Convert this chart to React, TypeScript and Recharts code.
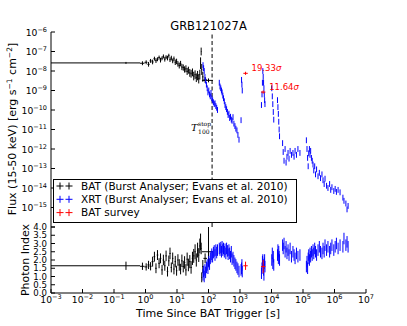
import React from 'react';
import {
  ComposedChart, Scatter, XAxis, YAxis, ErrorBar, ReferenceLine, LabelList, Legend,
} from 'recharts';

const FONT = '"DejaVu Sans", sans-serif';
const MINUS = '\u2212';

// BAT Burst Analyser bins (time in s since trigger, flux in erg/s/cm2)
const batTime = [
  0.24, 0.8, 1.05, 1.25, 1.45, 1.68, 1.92, 2.15, 2.4, 2.7,
  3.0, 3.35, 3.7, 4.1, 4.5, 5.0, 5.5, 6.0, 6.6, 7.3,
  8.0, 8.8, 9.7, 10.7, 11.8, 13.0, 14.3, 15.8, 17.4, 19.2,
  21, 23, 25.5, 28, 31, 34, 37.5, 41, 45, 49,
  53, 56, 58.5, 61, 66, 78, 100,
];
const batStart = [
  0.001, 0.67, 0.93, 1.15, 1.35, 1.56, 1.8, 2.03, 2.27, 2.55,
  2.85, 3.17, 3.52, 3.9, 4.3, 4.75, 5.25, 5.75, 6.3, 6.95,
  7.65, 8.4, 9.25, 10.2, 11.2, 12.4, 13.6, 15.0, 16.6, 18.3,
  20.1, 22, 24.2, 26.7, 29.5, 32.5, 35.8, 39.2, 43, 47,
  51, 54.5, 57.5, 59.8, 63, 69, 62,
];
const batStop = [
  0.67, 0.93, 1.15, 1.35, 1.56, 1.8, 2.03, 2.27, 2.55, 2.85,
  3.17, 3.52, 3.9, 4.3, 4.75, 5.25, 5.75, 6.3, 6.95, 7.65,
  8.4, 9.25, 10.2, 11.2, 12.4, 13.6, 15.0, 16.6, 18.3, 20.1,
  22, 24.2, 26.7, 29.5, 32.5, 35.8, 39.2, 43, 47, 51,
  54.5, 57.5, 59.8, 63, 69, 90, 138,
];
const batFlux = [
  2.6e-8, 2.5e-8, 2.8e-8, 2.2e-8, 3.3e-8, 2.9e-8, 4.3e-8, 3.4e-8, 4.0e-8, 4.9e-8,
  3.6e-8, 4.5e-8, 5.6e-8, 4.0e-8, 5.1e-8, 4.6e-8, 6.1e-8, 3.8e-8, 4.6e-8, 3.3e-8,
  4.2e-8, 2.8e-8, 3.1e-8, 2.3e-8, 1.9e-8, 2.4e-8, 1.6e-8, 1.5e-8, 1.2e-8, 1.3e-8,
  9.5e-9, 1.1e-8, 8.0e-9, 7.2e-9, 8.5e-9, 5.5e-9, 6.5e-9, 4.5e-9, 5.8e-9, 4.0e-9,
  6.5e-9, 2.5e-8, 1.0e-7, 1.2e-8, 5.0e-9, 3.5e-9, 3.3e-9,
];
// flux uncertainty, in decades
const batFluxErr = [
  0.05, 0.1, 0.1, 0.12, 0.1, 0.12, 0.1, 0.12, 0.1, 0.1,
  0.12, 0.1, 0.1, 0.12, 0.1, 0.12, 0.1, 0.12, 0.12, 0.12,
  0.12, 0.14, 0.14, 0.14, 0.15, 0.14, 0.16, 0.16, 0.16, 0.18,
  0.18, 0.18, 0.2, 0.2, 0.2, 0.22, 0.22, 0.22, 0.24, 0.24,
  0.25, 0.3, 0.2, 0.28, 0.25, 0.15, 0.1,
];
const batIndex = [
  1.65, 1.62, 1.58, 1.7, 1.62, 1.9, 2.2, 1.5, 2.3, 1.8,
  2.1, 1.4, 2.0, 1.65, 2.25, 1.3, 1.95, 2.4, 1.55, 2.1,
  1.45, 1.9, 1.35, 2.0, 1.7, 1.45, 1.95, 1.6, 1.85, 1.4,
  2.05, 1.7, 1.9, 1.55, 2.1, 2.25, 2.5, 2.0, 2.6, 2.3,
  2.85, 3.1, 2.7, 0.95, 1.6, 2.1, 2.5,
];
// [below, above]; the last one runs off the top of the panel
const batIndexErr: [number, number][] = [
  [0.25, 0.25], [0.22, 0.22], [0.22, 0.22], [0.25, 0.25], [0.25, 0.25], [0.3, 0.3], [0.3, 0.3], [0.3, 0.3], [0.3, 0.3], [0.3, 0.3],
  [0.3, 0.3], [0.3, 0.3], [0.32, 0.32], [0.3, 0.3], [0.32, 0.32], [0.3, 0.3], [0.32, 0.32], [0.35, 0.35], [0.3, 0.3], [0.35, 0.35],
  [0.32, 0.32], [0.35, 0.35], [0.3, 0.3], [0.35, 0.35], [0.35, 0.35], [0.32, 0.32], [0.38, 0.38], [0.35, 0.35], [0.38, 0.38], [0.35, 0.35],
  [0.4, 0.4], [0.38, 0.38], [0.4, 0.4], [0.38, 0.38], [0.4, 0.4], [0.42, 0.42], [0.45, 0.45], [0.4, 0.4], [0.45, 0.45], [0.42, 0.42],
  [0.45, 0.45], [0.5, 0.5], [0.35, 0.35], [0.3, 0.3], [0.4, 0.4], [0.3, 0.3], [0.9, 1.5],
];

// XRT Burst Analyser points (time bins too short to show at this scale)
const xrtTime = [
  67, 70, 73, 77, 81, 86, 91, 96, 102, 108, 114, 120, 127, 135, 143, 152, 161, 171, 182, 193,
  220, 232, 245, 258, 270, 285, 300, 318, 335, 355, 375, 398, 420, 445, 470, 500, 530, 560, 600, 640, 690, 740, 800, 860, 930,
  1080, 1120, 1150, 1180,
  4800, 5000, 5150, 5300, 5450, 5600, 5750, 5900, 6050, 6200,
  10200, 10600, 11000, 11400, 11800,
  15500, 16000, 16500, 17000, 17500, 18000,
  22500, 23500, 25000, 27000, 29000, 31000, 33500, 36000, 39000, 43000, 48000, 52000, 56000, 62000, 69000, 80000,
  128000, 134000, 140000, 146000, 152000, 160000, 167000, 175000, 185000, 196000, 208000, 220000, 235000, 250000, 270000, 300000, 330000, 360000,
  400000, 432000, 470000, 500000, 560000, 620000, 700000, 760000, 830000, 950000, 1.05e6, 1.15e6, 1.3e6, 1.5e6, 1.85e6, 2.0e6, 2.3e6, 2.5e6, 2.7e6,
];
const xrtFlux = [
  2.0e-8, 1.4e-8, 1.0e-8, 5.0e-9, 3.2e-9, 2.0e-9, 1.3e-9, 8.0e-10, 1.0e-9, 6.3e-10, 5.0e-10, 7.5e-10, 4.0e-10, 3.2e-10, 2.5e-10, 2.0e-10, 2.2e-10, 1.6e-10, 1.3e-10, 1.0e-10,
  2.5e-9, 1.6e-9, 1.3e-9, 1.0e-9, 8.0e-10, 5.5e-10, 4.0e-10, 2.8e-10, 1.8e-10, 1.4e-10, 1.1e-10, 8.0e-11, 5.5e-11, 6.5e-11, 3.9e-11, 4.5e-11, 3.2e-11, 2.8e-11, 4.3e-11, 2.0e-11, 1.5e-11, 1.1e-11, 9.0e-12, 5.3e-12, 3.0e-12,
  3.0e-11, 3.5e-9, 2.0e-9, 1.0e-9,
  1.8e-10, 6.3e-10, 2.5e-9, 1.0e-8, 5.0e-9, 2.5e-9, 1.3e-9, 6.3e-10, 3.2e-10, 2.0e-10,
  1.3e-9, 5.0e-10, 2.0e-10, 7.9e-11, 3.2e-11,
  3.2e-10, 1.4e-10, 6.3e-11, 2.5e-11, 1.0e-11, 4.5e-12,
  2.0e-12, 7.0e-13, 2.5e-13, 1.0e-12, 2.0e-13, 4.0e-13, 6.3e-13, 3.2e-13, 8.0e-13, 5.0e-13, 6.3e-13, 4.0e-13, 8.0e-13, 5.0e-13, 1.0e-12, 6.3e-13,
  2.8e-12, 1.0e-12, 3.5e-13, 1.3e-13, 6.0e-13, 1.0e-12, 5.0e-13, 8.0e-13, 3.5e-13, 2.5e-13, 1.6e-13, 8.0e-14, 1.3e-13, 5.0e-14, 9.0e-14, 4.0e-14, 6.0e-14, 3.2e-14,
  5.0e-14, 2.5e-14, 1.6e-14, 3.0e-14, 1.3e-14, 1.0e-14, 1.6e-14, 8.0e-15, 1.1e-14, 7.0e-15, 9.0e-15, 6.3e-15, 8.0e-15, 6.0e-15, 3.2e-15, 2.2e-15, 1.6e-15, 8.0e-16, 1.2e-15,
];
const xrtIndex = [
  1.1, 1.3, 1.0, 1.4, 1.25, 1.55, 1.7, 1.5, 1.9, 1.75, 2.1, 2.2, 2.35, 2.2, 2.45, 2.55, 2.3, 2.6, 2.45, 2.6,
  2.7, 2.6, 2.75, 2.5, 2.8, 2.6, 2.7, 2.5, 2.65, 2.4, 2.7, 2.55, 2.35, 2.6, 2.4, 2.2, 2.5, 2.05, 2.15, 1.95, 1.8, 1.7, 1.55, 1.45, 1.3,
  1.4, 1.5, 1.7, 1.3,
  1.2, 1.5, 1.9, 2.0, 1.7, 1.4, 1.1, 1.8, 2.0, 1.6,
  2.0, 2.4, 1.8, 2.2, 1.7,
  2.3, 2.6, 2.1, 2.5, 2.2, 2.0,
  2.9, 2.7, 3.0, 2.5, 2.8, 2.4, 2.6, 2.3, 2.7, 2.2, 2.5, 2.3, 2.1, 2.4, 2.2, 2.3,
  1.6, 1.9, 1.5, 2.1, 2.3, 2.0, 2.4, 2.2, 2.5, 2.3, 2.6, 2.4, 2.7, 2.5, 2.3, 2.6, 2.8, 2.5,
  2.4, 2.7, 2.5, 2.9, 2.6, 2.8, 2.5, 2.7, 2.9, 2.6, 2.8, 3.0, 2.7, 2.9, 2.8, 3.3, 2.9, 3.1, 2.8,
];
const XRT_F_ERR = 0.15; // decades
const XRT_IX_ERR = 0.35;

// BAT survey detections
const surveyTime = [1500, 5450];
const surveyFlux = [7.6e-9, 8.3e-10];
const surveyIndex = [1.65, 1.6];
const surveyIndexErr: [number, number][] = [[0.25, 0.25], [0.4, 0.4]];
const surveySigma = ['19.33', '11.64'];

const T100 = 130;

const seriesNames = [
  'BAT (Burst Analyser; Evans et al. 2010)',
  'XRT (Burst Analyser; Evans et al. 2010)',
  'BAT survey',
];

const timeTicks = [1e-3, 1e-2, 1e-1, 1, 10, 100, 1e3, 1e4, 1e5, 1e6, 1e7];
const fluxTicks = [1e-16, 1e-15, 1e-14, 1e-13, 1e-12, 1e-11, 1e-10, 1e-9, 1e-8, 1e-7, 1e-6];
const indexTicks = [0, 0.5, 1, 1.5, 2, 2.5, 3, 3.5, 4];

const dex = (v: number, d: number): [number, number] => [v - v / 10 ** d, v * 10 ** d - v];

const batRows = batTime.map((t, i) => ({
  t, f: batFlux[i], ix: batIndex[i],
  tErr: [t - batStart[i], batStop[i] - t],
  fErr: dex(batFlux[i], batFluxErr[i]),
  ixErr: batIndexErr[i],
}));
const xrtRows = xrtTime.map((t, i) => ({
  t, f: xrtFlux[i], ix: xrtIndex[i],
  fErr: dex(xrtFlux[i], XRT_F_ERR),
  ixErr: XRT_IX_ERR,
}));
const surveyRows = surveyTime.map((t, i) => ({
  t, f: surveyFlux[i], ix: surveyIndex[i], sig: surveySigma[i],
  tErr: dex(t, 0.07),
  fErr: dex(surveyFlux[i], 0.08),
  ixErr: surveyIndexErr[i],
}));

const BLACK = '#000000';
const BLUE = '#0000ff';
const RED = '#ff0000';
const seriesColors = [BLACK, BLUE, RED];

const Empty = () => <g />;

const pow = (v: number) => {
  const e = Math.round(Math.log10(v));
  return String(e).replace('-', MINUS);
};

function TimeTick({ x, y, payload }: any) {
  return (
    <text x={x} y={y + 10} textAnchor="middle" fontSize={9.2} fontFamily={FONT} fill="#000">
      10<tspan dy={-4} fontSize={6.5}>{pow(payload.value)}</tspan>
    </text>
  );
}

function FluxTick({ x, y, payload }: any) {
  if (payload.value < 1e-15) return null;
  return (
    <text x={x} y={y + 3.5} textAnchor="end" fontSize={9.2} fontFamily={FONT} fill="#000">
      10<tspan dy={-4} fontSize={6.5}>{pow(payload.value)}</tspan>
    </text>
  );
}

function IndexTick({ x, y, payload }: any) {
  return (
    <text x={x} y={y + 3} textAnchor="end" fontSize={8.6} fontFamily={FONT} fill="#000">
      {payload.value.toFixed(1)}
    </text>
  );
}

// y title of the flux panel, plus the panel title
const FluxTitle = () => (
  <g fill="#000" fontFamily={FONT}>
    <text x={208.5} y={30} textAnchor="middle" fontSize={11.5}>GRB121027A</text>
    <text x={16} y={129} transform="rotate(-90 16 129)" textAnchor="middle" fontSize={11}>
      Flux (15-50 keV) [erg s<tspan dy={-4} fontSize={7.5}>{MINUS}1</tspan>
      <tspan dy={4}> cm</tspan><tspan dy={-4} fontSize={7.5}>{MINUS}2</tspan><tspan dy={4}>]</tspan>
    </text>
  </g>
);

const IndexTitle = () => (
  <text x={29} y={38} transform="rotate(-90 29 38)" textAnchor="middle" fontSize={11} fontFamily={FONT} fill="#000">
    Photon Index
  </text>
);

const TimeTitle = () => (
  <text x={208} y={95} textAnchor="middle" fontSize={11} fontFamily={FONT} fill="#000">
    Time Since BAT Trigger [s]
  </text>
);

function T100Label({ viewBox }: any) {
  const x = viewBox.x;
  return (
    <g fill="#000">
      <text x={x - 21} y={131} fontFamily='"DejaVu Serif", serif' fontStyle="italic" fontSize={10}>T</text>
      <text x={x - 14} y={125.5} fontFamily='"DejaVu Serif", serif' fontSize={6}>stop</text>
      <text x={x - 14} y={133.5} fontFamily='"DejaVu Serif", serif' fontSize={6}>100</text>
    </g>
  );
}

function SigmaLabel({ x, y, width, height, value }: any) {
  const cx = x + (width || 0) / 2;
  const cy = y + (height || 0) / 2;
  return (
    <text x={cx + 6} y={cy - 2.5} fontSize={8.5} fontFamily={FONT} fill={RED}>
      {value}<tspan fontStyle="italic">σ</tspan>
    </text>
  );
}

function LegendBox() {
  return (
    <svg width={244} height={44} style={{ display: 'block' }}>
      <rect x={0.5} y={0.5} width={243} height={43} fill="#fff" stroke="#000" strokeWidth={1} />
      {seriesNames.map((name, i) => {
        const yy = 7 + i * 13.3;
        return (
          <g key={name}>
            {[7, 16].map((dx) => (
              <g key={dx} stroke={seriesColors[i]}>
                <line x1={dx - 3.5} x2={dx + 3.5} y1={yy} y2={yy} />
                <line x1={dx} x2={dx} y1={yy - 3.5} y2={yy + 3.5} />
              </g>
            ))}
            <text x={28} y={yy + 3.8} fontSize={10.5} fontFamily={FONT} fill="#000">{name}</text>
          </g>
        );
      })}
    </svg>
  );
}

const axisCommon = {
  axisLine: { stroke: '#000' },
  tickLine: { stroke: '#000' },
  tickSize: -4,
  interval: 0 as const,
  allowDataOverflow: true,
};

// error bars only, no end caps (a zero width falls back to the default)
const CAP = 0.001;

function series(yKey: 'fErr' | 'ixErr', withLabels: boolean) {
  const rows = [batRows, xrtRows, surveyRows];
  return rows.map((data, i) => (
    <Scatter key={i} name={seriesNames[i]} data={data} fill={seriesColors[i]}
      shape={Empty} isAnimationActive={false}>
      {i !== 1 && <ErrorBar dataKey="tErr" direction="x" width={CAP} stroke={seriesColors[i]} strokeWidth={1} />}
      <ErrorBar dataKey={yKey} direction="y" width={CAP} stroke={seriesColors[i]} strokeWidth={1} />
      {withLabels && i === 2 && <LabelList dataKey="sig" content={SigmaLabel} />}
    </Scatter>
  ));
}

function FluxPanel() {
  return (
    <ComposedChart width={407} height={230} margin={{ top: 32, right: 41, bottom: 3, left: 0 }}>
      <XAxis xAxisId={0} type="number" dataKey="t" scale="log" domain={[1e-3, 1e7]} ticks={timeTicks}
        tick={false} height={0} {...axisCommon} />
      <XAxis xAxisId="top" orientation="top" type="number" scale="log" domain={[1e-3, 1e7]} ticks={timeTicks}
        tick={false} height={0} {...axisCommon} />
      <YAxis yAxisId={0} type="number" dataKey="f" scale="log" domain={[1e-16, 1e-6]} ticks={fluxTicks}
        tick={FluxTick} tickMargin={8} width={51} label={FluxTitle} {...axisCommon} />
      <YAxis yAxisId="right" orientation="right" type="number" scale="log" domain={[1e-16, 1e-6]} ticks={fluxTicks}
        tick={false} width={0} {...axisCommon} />
      <ReferenceLine x={T100} stroke="#000" strokeWidth={1} strokeDasharray="4 2.5" label={T100Label} />
      {series('fErr', true)}
      <Legend content={LegendBox} layout="horizontal" verticalAlign="middle" align="center"
        wrapperStyle={{ position: 'absolute', left: 53, top: 179, width: 244, height: 44, zIndex: 5 }} />
    </ComposedChart>
  );
}

function IndexPanel() {
  return (
    <ComposedChart width={407} height={104} margin={{ top: 5, right: 41, bottom: 0, left: 0 }}>
      <XAxis xAxisId={0} type="number" dataKey="t" scale="log" domain={[1e-3, 1e7]} ticks={timeTicks}
        tick={TimeTick} tickMargin={4} height={33} label={TimeTitle} {...axisCommon} />
      <XAxis xAxisId="top" orientation="top" type="number" scale="log" domain={[1e-3, 1e7]} ticks={timeTicks}
        tick={false} height={0} {...axisCommon} />
      <YAxis yAxisId={0} type="number" dataKey="ix" domain={[0, 4]} ticks={indexTicks}
        tick={IndexTick} tickMargin={8} width={51} label={IndexTitle} {...axisCommon} />
      <YAxis yAxisId="right" orientation="right" type="number" domain={[0, 4]} ticks={indexTicks}
        tick={false} width={0} {...axisCommon} />
      {series('ixErr', false)}
    </ComposedChart>
  );
}

export default function App() {
  return (
    <div style={{ position: 'absolute', left: 0, top: 0, width: 407, height: 326, background: '#fff', fontFamily: FONT }}>
      <div style={{ position: 'absolute', left: 0, top: 222 }}>
        <IndexPanel />
      </div>
      <div style={{ position: 'absolute', left: 0, top: 0 }}>
        <FluxPanel />
      </div>
    </div>
  );
}
